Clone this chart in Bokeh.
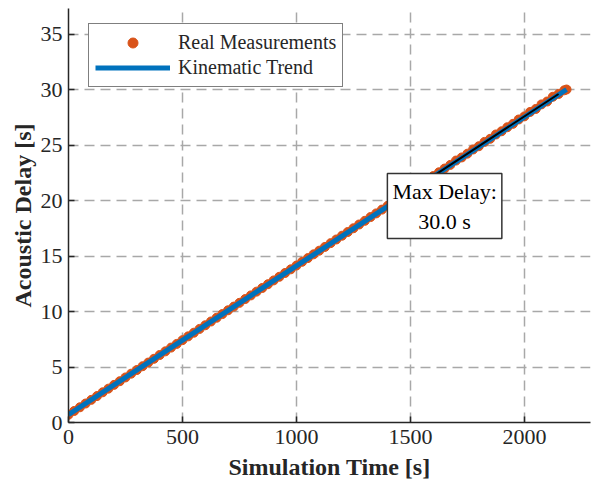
from bokeh.plotting import figure
from bokeh.models import ColumnDataSource, Legend, LegendItem, Label, FixedTicker, Range1d
from bokeh.embed import file_html
from bokeh.resources import INLINE

# --- data ---
time_s = [0, 25, 50, 75, 100, 125, 150, 175, 200, 225, 250, 275, 300, 325, 350, 375,
          400, 425, 450, 475, 500, 525, 550, 575, 600, 625, 650, 675, 700, 725, 750, 775,
          800, 825, 850, 875, 900, 925, 950, 975, 1000, 1025, 1050, 1075, 1100, 1125, 1150,
          1175, 1200, 1225, 1250, 1275, 1300, 1325, 1350, 1375, 1400, 1425, 1450, 1475, 1500,
          1525, 1550, 1575, 1600, 1625, 1650, 1675, 1700, 1725, 1750, 1775, 1800, 1825, 1850,
          1875, 1900, 1925, 1950, 1975, 2000, 2025, 2050, 2075, 2100, 2125, 2150, 2175, 2185]
delay_s = [0.70, 1.04, 1.37, 1.71, 2.04, 2.38, 2.72, 3.05, 3.39, 3.72, 4.06, 4.40, 4.73, 5.07,
           5.40, 5.74, 6.08, 6.41, 6.75, 7.08, 7.42, 7.76, 8.09, 8.43, 8.76, 9.10, 9.44, 9.77,
           10.11, 10.44, 10.78, 11.12, 11.45, 11.79, 12.12, 12.46, 12.80, 13.13, 13.47, 13.80,
           14.14, 14.48, 14.81, 15.15, 15.48, 15.82, 16.16, 16.49, 16.83, 17.16, 17.50, 17.84,
           18.17, 18.51, 18.84, 19.18, 19.52, 19.85, 20.19, 20.52, 20.86, 21.20, 21.53, 21.87,
           22.20, 22.54, 22.88, 23.21, 23.60, 23.88, 24.22, 24.60, 24.89, 25.28, 25.56, 25.95,
           26.24, 26.60, 26.91, 27.30, 27.58, 27.98, 28.25, 28.66, 28.92, 29.35, 29.60, 29.93, 30.00]

trend_t = [0, 2185]
trend_d = [0.70, 30.00]

recent_t = [1600, 2150]
recent_d = [22.20, 29.60]

x_ticks = [0, 500, 1000, 1500, 2000]
y_ticks = [0, 5, 10, 15, 20, 25, 30, 35]

max_delay = 30.0

ORANGE = "#D95319"
BLUE = "#0072BD"
INK = "#262626"
FONT = "Liberation Serif"

p = figure(width=593, height=484, output_backend="svg", toolbar_location=None,
           x_range=Range1d(0, 2290), y_range=Range1d(0, 37.3),
           min_border_left=68, min_border_right=3, min_border_top=8, min_border_bottom=62)
p.outline_line_color = None

src = ColumnDataSource(dict(t=time_s, d=delay_s))
p.scatter("t", "d", source=src, size=9, color=ORANGE, line_color=ORANGE)
p.line(trend_t, trend_d, line_color=BLUE, line_width=5)
p.line(recent_t, recent_d, line_color="black", line_width=2)

# legend proxies (not drawn in the plot)
nan = float("nan")
leg_pts = p.scatter(x=[nan], y=[nan], size=16, color=ORANGE, line_color=ORANGE)
leg_line = p.line(x=[nan, nan], y=[nan, nan], line_color=BLUE, line_width=5)
legend = Legend(items=[LegendItem(label="Real Measurements", renderers=[leg_pts]),
                       LegendItem(label="Kinematic Trend", renderers=[leg_line])],
                location=(20, 335), label_text_font=FONT, label_text_font_size="20px",
                label_text_color=INK,
                border_line_color="black", border_line_width=1.5, glyph_width=75,
                glyph_height=25, label_height=25, spacing=0, padding=6, margin=0,
                label_standoff=8, background_fill_alpha=1)
p.add_layout(legend)

lab = Label(x=1650, y=19.5, text=f"Max Delay:\n{max_delay:.1f} s", text_align="center",
            text_baseline="middle", text_font=FONT, text_font_size="22px",
            text_color="black",
            background_fill_color="white", border_line_color="#333333",
            border_line_width=1.5, padding=5)
p.add_layout(lab)

for ax in (p.xaxis[0], p.yaxis[0]):
    ax.axis_line_width = 1.5
    ax.axis_line_color = INK
    ax.major_tick_in = 6
    ax.major_tick_out = 0
    ax.major_tick_line_color = INK
    ax.major_tick_line_width = 1.5
    ax.minor_tick_line_color = None
    ax.major_label_text_font = FONT
    ax.major_label_text_font_size = "22px"
    ax.major_label_text_color = INK
    ax.axis_label_text_font = FONT
    ax.axis_label_text_font_size = "24px"
    ax.axis_label_text_font_style = "bold"
    ax.axis_label_text_color = INK

p.xaxis.ticker = FixedTicker(ticks=x_ticks)
p.yaxis.ticker = FixedTicker(ticks=y_ticks)
p.xaxis.axis_label = "Simulation Time [s]"
p.yaxis.axis_label = "Acoustic Delay [s]"
p.xaxis.major_label_standoff = 7
p.yaxis.major_label_standoff = 6
p.xaxis.axis_label_standoff = 7
p.yaxis.axis_label_standoff = 2

for g in (p.xgrid[0], p.ygrid[0]):
    g.grid_line_color = "#a8a8a8"
    g.grid_line_width = 1.5
    g.grid_line_dash = "10 6"

open("out.html", "w").write(file_html(p, INLINE))
